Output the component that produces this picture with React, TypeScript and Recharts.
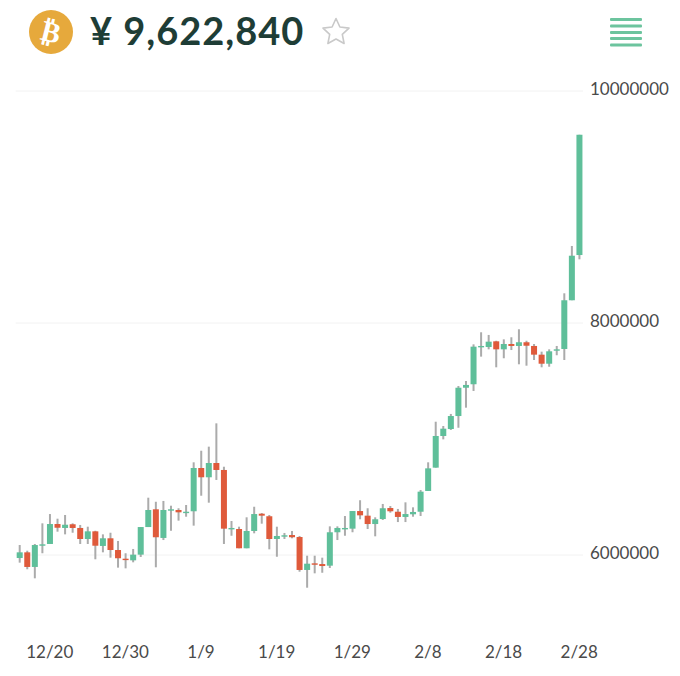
import React from "react";
import { ComposedChart, Bar, XAxis, YAxis, CartesianGrid } from "recharts";

const dates = ["12/16","12/17","12/18","12/19","12/20","12/21","12/22","12/23","12/24","12/25","12/26","12/27","12/28","12/29","12/30","12/31",
"1/1","1/2","1/3","1/4","1/5","1/6","1/7","1/8","1/9","1/10","1/11","1/12","1/13","1/14","1/15","1/16","1/17","1/18","1/19","1/20","1/21","1/22","1/23","1/24","1/25","1/26","1/27","1/28","1/29","1/30","1/31",
"2/1","2/2","2/3","2/4","2/5","2/6","2/7","2/8","2/9","2/10","2/11","2/12","2/13","2/14","2/15","2/16","2/17","2/18","2/19","2/20","2/21","2/22","2/23","2/24","2/25","2/26","2/27","2/28"];

const opens = [5974000,6023000,5897000,6086000,6095000,6267000,6233000,6265000,6233000,6138000,
6204000,6078000,6144000,6043000,5968000,5954000,6003000,6241000,6394000,6147000,
6388000,6388000,6365000,6377000,6750000,6670000,6793000,6733000,6227000,6224000,
6058000,6207000,6356000,6334000,6138000,6161000,6172000,6155000,5871000,5928000,
5922000,5908000,6196000,6227000,6227000,6379000,6339000,6267000,6310000,6405000,
6373000,6328000,6351000,6373000,6552000,6753000,7026000,7086000,7198000,7442000,
7472000,7796000,7793000,7842000,7773000,7819000,7802000,7834000,7802000,7727000,
7649000,7761000,7776000,8196000,8586000];

const closes = [6023000,5897000,6086000,6092000,6267000,6235000,6261000,6233000,6138000,6204000,
6080000,6144000,6043000,5972000,5957000,6003000,6241000,6388000,6153000,6388000,
6394000,6368000,6373000,6750000,6670000,6793000,6733000,6227000,6233000,6058000,
6207000,6353000,6339000,6138000,6164000,6170000,6153000,5871000,5925000,5922000,
5905000,6196000,6233000,6233000,6379000,6342000,6267000,6308000,6403000,6377000,
6328000,6353000,6371000,6546000,6747000,7026000,7089000,7198000,7442000,7466000,
7796000,7802000,7839000,7773000,7819000,7802000,7834000,7804000,7727000,7649000,
7756000,7773000,8196000,8580000,9622840];

const highs = [6086000,6037000,6095000,6273000,6353000,6313000,6345000,6273000,6259000,6244000,
6209000,6178000,6192000,6121000,6015000,6052000,6241000,6494000,6459000,6466000,
6425000,6403000,6431000,6799000,6899000,6934000,7135000,6761000,6293000,6244000,
6325000,6416000,6362000,6345000,6244000,6190000,6207000,6164000,5994000,5994000,
5977000,6247000,6247000,6336000,6379000,6472000,6403000,6325000,6440000,6422000,
6397000,6454000,6411000,6560000,6799000,7149000,7112000,7216000,7457000,7500000,
7816000,7920000,7897000,7847000,7859000,7877000,7946000,7847000,7819000,7753000,
7773000,7802000,8256000,8664000,9622840];

const lows = [5934000,5877000,5799000,6015000,6095000,6201000,6178000,6192000,6095000,6095000,
5963000,6023000,5977000,5891000,5885000,5937000,5983000,6241000,5894000,6129000,
6209000,6296000,6330000,6253000,6511000,6451000,6647000,6095000,6166000,6058000,
6058000,6187000,6270000,6049000,5985000,6138000,6144000,5856000,5718000,5842000,
5847000,5888000,6129000,6166000,6196000,6308000,6224000,6161000,6302000,6365000,
6284000,6284000,6330000,6336000,6552000,6753000,6997000,7078000,7097000,7270000,
7414000,7710000,7773000,7618000,7696000,7767000,7644000,7632000,7681000,7618000,
7623000,7722000,7681000,8196000,8549000];

const xTicks = ["12/20","12/30","1/9","1/19","1/29","2/8","2/18","2/28"];
const yTicks = [6000000, 8000000, 10000000];

const rows = dates.map((date, i) => ({
  date,
  open: opens[i],
  close: closes[i],
  high: highs[i],
  low: lows[i],
}));

const UP = "#5FBF9A";
const DOWN = "#DF5A3B";
const WICK = "#ABABAB";

const Candle = (props: any) => {
  const { x, y, width, height, payload } = props;
  const { open, close, high, low } = payload;
  const cx = x + width / 2;
  const perValue = height / (high - low);
  const top = y + (high - Math.max(open, close)) * perValue;
  const bodyH = Math.max(Math.abs(open - close) * perValue, 1.4);
  const bodyW = 6;
  return (
    <g>
      <rect x={cx - 1} y={y} width={2} height={height} fill={WICK} />
      <rect x={cx - bodyW / 2} y={top} width={bodyW} height={bodyH} fill={close >= open ? UP : DOWN} />
    </g>
  );
};

const hamburgerTops = [18, 24.5, 31, 37, 43.5];

export default function App() {
  return (
    <div style={{ position: "absolute", left: 0, top: 0, width: 680, height: 676, background: "#fff", overflow: "hidden" }}>
      <svg width={680} height={70} style={{ position: "absolute", left: 0, top: 0 }}>
        <circle cx={51} cy={32} r={22} fill="#E6A93C" />
        <text x={51} y={42} textAnchor="middle" fontFamily="'DejaVu Sans'" fontWeight={700} fontSize={29} fill="#fff" transform="rotate(14 51 32)">₿</text>
        <text x={90} y={45} fontFamily="Lato, 'Noto Sans'" fontWeight={700} fontSize={38} letterSpacing={1} fill="#1E3D36">¥ 9,622,840</text>
        <path d="M336 18.5 L339.9 27 L349 28.1 L342.3 34.4 L344.1 43.5 L336 39 L327.9 43.5 L329.7 34.4 L323 28.1 L332.1 27 Z" fill="none" stroke="#C9C9C9" strokeWidth={1.6} strokeLinejoin="round" />
        {hamburgerTops.map((t) => (
          <rect key={t} x={610} y={t} width={32} height={3} rx={1} fill="#6CC49E" />
        ))}
      </svg>
      <div style={{ position: "absolute", left: 0, top: 0 }}>
        <ComposedChart
          width={680}
          height={676}
          data={rows}
          margin={{ top: 91, right: 0, bottom: 21.4, left: 15.7 }}
          barCategoryGap={0}
        >
          <CartesianGrid horizontal vertical={false} stroke="#F2F2F2" strokeWidth={1} horizontalValues={yTicks} />
          <XAxis
            dataKey="date"
            ticks={xTicks}
            interval={0}
            axisLine={false}
            tickLine={false}
            height={30}
            tick={{ fontSize: 17, fill: "#4A4A4A", fontFamily: "Lato, 'Noto Sans'" }}
            tickMargin={15}
          />
          <YAxis
            orientation="right"
            domain={[5400000, 10000000]}
            ticks={yTicks}
            allowDataOverflow
            axisLine={false}
            tickLine={false}
            width={97}
            tick={{ fontSize: 17, fill: "#4A4A4A", fontFamily: "Lato, 'Noto Sans'", dy: -2 }}
            tickMargin={1}
          />
          <Bar
            dataKey={(d: any) => [d.low, d.high]}
            shape={Candle}
            isAnimationActive={false}
          />
        </ComposedChart>
      </div>
    </div>
  );
}
